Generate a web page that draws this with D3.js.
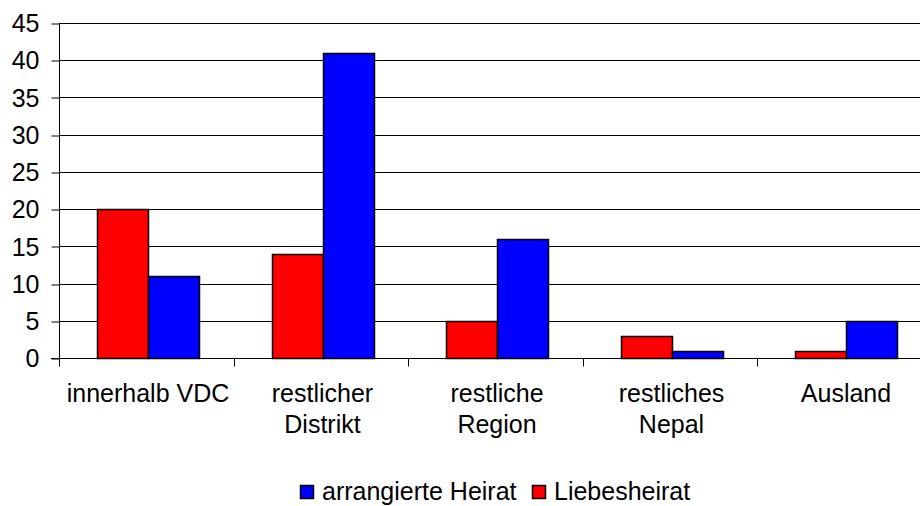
<!DOCTYPE html>
<html>
<head>
<meta charset="utf-8">
<script src="https://cdn.jsdelivr.net/npm/d3@7"></script>
<style>
  body { margin: 0; background: #fff; }
  text { font-family: "Liberation Sans", Arial, sans-serif; fill: #000; }
</style>
</head>
<body>
<div class="chart-wrapper"></div>
<script>
// chart data
const categories = [["innerhalb VDC"], ["restlicher", "Distrikt"], ["restliche", "Region"], ["restliches", "Nepal"], ["Ausland"]];
const loveMarriage = [20, 14, 5, 3, 1];
const arrangedMarriage = [11, 41, 16, 1, 5];
const yTicks = [0, 5, 10, 15, 20, 25, 30, 35, 40, 45];
const seriesNames = ["Liebesheirat", "arrangierte Heirat"];
const seriesColors = ["#ff0000", "#0000ff"];

const width = 920, height = 506;
const plotLeft = 59, plotRight = 931.5;
const plotTop = 23, plotBottom = 358;
const fontSize = "25px";

const svg = d3.select(".chart-wrapper")
  .append("svg")
  .attr("width", width)
  .attr("height", height);

const x = d3.scaleBand()
  .domain(d3.range(categories.length))
  .range([plotLeft, plotRight]);

const y = d3.scaleLinear()
  .domain([0, 45])
  .range([plotBottom, plotTop]);

const py = v => Math.round(y(v)) + 0.5;

// gridlines
svg.append("g")
  .selectAll("line")
  .data(yTicks)
  .enter()
  .append("line")
  .attr("x1", plotLeft)
  .attr("x2", width)
  .attr("y1", d => py(d))
  .attr("y2", d => py(d))
  .attr("stroke", "#000")
  .attr("stroke-width", 1);

// y axis
const yAxis = svg.append("g")
  .attr("transform", `translate(${plotLeft + 0.5},0)`)
  .call(d3.axisLeft(y).tickValues(yTicks).tickSize(8).tickPadding(12));
yAxis.selectAll("path, line").attr("stroke", "#000");
yAxis.select(".domain").attr("d", `M0,${py(45)}V${py(0)}`);
yAxis.selectAll(".tick line").attr("transform", d => `translate(0,${py(d) - y(d)})`);
yAxis.selectAll("text")
  .style("font-family", '"Liberation Sans", Arial, sans-serif')
  .style("font-size", fontSize)
  .attr("dy", "0.35em");

// bars
const barW = 51;
const barShift = 1.75;
const barGroups = svg.append("g")
  .selectAll("g")
  .data(categories.map((c, i) => i))
  .enter()
  .append("g");

[loveMarriage, arrangedMarriage].forEach((series, s) => {
  barGroups.append("rect")
    .attr("x", i => Math.round(x(i) + x.bandwidth() / 2 + barShift - barW + s * barW) + 0.5)
    .attr("y", i => py(series[i]))
    .attr("width", barW)
    .attr("height", i => py(0) - py(series[i]))
    .attr("fill", seriesColors[s])
    .attr("stroke", "#000")
    .attr("stroke-width", 1.5);
});

// x axis
const baseY = py(0);
svg.append("line")
  .attr("x1", plotLeft - 8)
  .attr("x2", width)
  .attr("y1", baseY)
  .attr("y2", baseY)
  .attr("stroke", "#000");

svg.append("g")
  .selectAll("line")
  .data(d3.range(categories.length))
  .enter()
  .append("line")
  .attr("x1", i => Math.round(x(i)) + 0.5)
  .attr("x2", i => Math.round(x(i)) + 0.5)
  .attr("y1", baseY)
  .attr("y2", baseY + 8)
  .attr("stroke", "#000");

// category labels
const labels = svg.append("g")
  .selectAll("text")
  .data(categories)
  .enter()
  .append("text")
  .attr("text-anchor", "middle")
  .attr("font-size", fontSize)
  .attr("y", 402);

labels.selectAll("tspan")
  .data((d, i) => d.map(line => ({ line, i })))
  .enter()
  .append("tspan")
  .attr("x", d => x(d.i) + x.bandwidth() / 2 + barShift)
  .attr("dy", (d, j) => j === 0 ? 0 : 31)
  .text(d => d.line);

// legend
const legendItems = [
  { name: seriesNames[1], color: seriesColors[1], x: 300 },
  { name: seriesNames[0], color: seriesColors[0], x: 532 }
];
const legend = svg.append("g");
legend.selectAll("rect")
  .data(legendItems)
  .enter()
  .append("rect")
  .attr("x", d => d.x + 0.5)
  .attr("y", 485.5)
  .attr("width", 13)
  .attr("height", 13)
  .attr("fill", d => d.color)
  .attr("stroke", "#000")
  .attr("stroke-width", 1.5);
legend.selectAll("text")
  .data(legendItems)
  .enter()
  .append("text")
  .attr("x", d => d.x + 22)
  .attr("y", 500)
  .attr("font-size", fontSize)
  .text(d => d.name);
</script>
</body>
</html>
